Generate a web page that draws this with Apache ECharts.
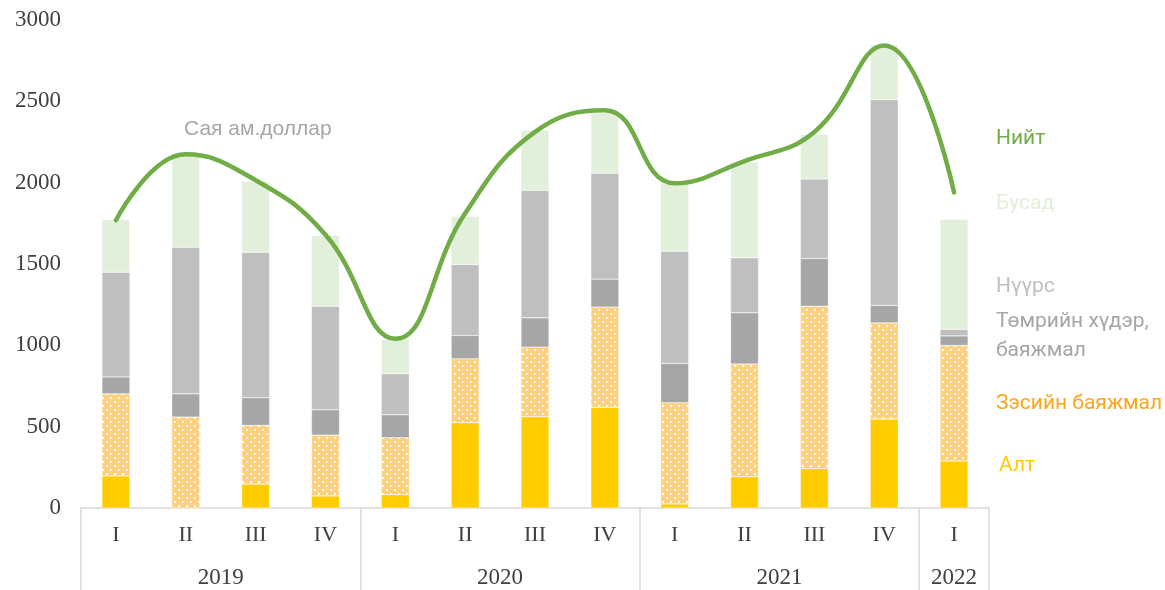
<!DOCTYPE html>
<html>
<head>
<meta charset="utf-8">
<script src="https://cdn.jsdelivr.net/npm/echarts@6/dist/echarts.min.js"></script>
<style>
  html, body { margin: 0; padding: 0; background: #fff; }
  #chart { width: 1165px; height: 590px; }
</style>
</head>
<body>
<div id="chart"></div>
<script>
const quarters = ["I", "II", "III", "IV", "I", "II", "III", "IV", "I", "II", "III", "IV", "I"]
const years = { 2: "2019", 6: "2020", 10: "2021", 12.5: "2022" }
const yTicks = [0, 500, 1000, 1500, 2000, 2500, 3000]

const gold = [197, 0, 147, 74, 82, 524, 561, 620, 25, 192, 242, 547, 289]
const copper = [505, 559, 361, 374, 350, 393, 428, 615, 622, 694, 999, 591, 710]
const iron = [104, 143, 170, 156, 141, 144, 180, 172, 242, 314, 293, 107, 59]
const coal = [644, 901, 894, 637, 252, 436, 784, 651, 690, 338, 489, 1265, 40]
const other = [323, 565, 435, 434, 211, 297, 369, 372, 426, 587, 274, 336, 677]
const total = [1769, 2174, 2015, 1680, 1040, 1812, 2312, 2445, 1996, 2133, 2312, 2844, 1939]

// dotted fill for copper
const dots = document.createElement("canvas")
dots.width = 8
dots.height = 8
const ctx = dots.getContext("2d")
ctx.fillStyle = "#FECF7C"
ctx.fillRect(0, 0, 8, 8)
ctx.fillStyle = "#ffffff"
ctx.fillRect(2, 1, 2, 2)
ctx.fillRect(6, 5, 2, 2)

const chart = echarts.init(document.getElementById("chart"))

const serif = "Liberation Serif"
const labelColor = "#404040"

const bar = (name, data, color) => ({
	name: name,
	type: "bar",
	stack: "x",
	barWidth: 28,
	data: data,
	itemStyle: { color: color, borderColor: "rgba(255,255,255,0.6)", borderWidth: 0.5 },
})

chart.setOption({
	animation: false,
	grid: { left: 81, right: 176, top: 20, bottom: 82 },
	xAxis: [
		{
			type: "category",
			data: quarters,
			axisLine: { lineStyle: { color: "#D9D9D9", width: 1.5 } },
			axisTick: { show: false },
			axisLabel: { margin: 16, fontFamily: serif, fontSize: 22, color: labelColor },
		},
		{
			type: "value",
			min: 0,
			max: 13,
			interval: 0.5,
			position: "bottom",
			offset: 0,
			axisLine: { show: false },
			axisTick: { show: false },
			splitLine: { show: false },
			axisLabel: {
				margin: 58,
				fontFamily: serif,
				fontSize: 23,
				color: labelColor,
				formatter: (v) => years[v] || "",
			},
		},
		{
			type: "value",
			min: 0,
			max: 13,
			interval: 4,
			position: "bottom",
			offset: 0,
			axisLine: { show: false },
			axisTick: { show: true, length: 90, lineStyle: { color: "#D9D9D9", width: 1.5 } },
			splitLine: { show: false },
			axisLabel: { show: false },
		},
	],
	yAxis: {
		type: "value",
		min: yTicks[0],
		max: yTicks[yTicks.length - 1],
		interval: 500,
		axisLine: { show: false },
		axisTick: { show: false },
		splitLine: { show: false },
		axisLabel: {
			margin: 20,
			fontFamily: serif,
			fontSize: 23,
			color: labelColor,
			formatter: (v) => String(v),
		},
	},
	series: [
		bar("Алт", gold, "#FFCC00"),
		bar("Зэсийн баяжмал", copper, { image: dots, repeat: "repeat" }),
		bar("Төмрийн хүдэр, баяжмал", iron, "#A6A6A6"),
		bar("Нүүрс", coal, "#BFBFBF"),
		bar("Бусад", other, "#E2EFDA"),
		{
			name: "Нийт",
			type: "line",
			data: total,
			smooth: 0.45,
			symbol: "none",
			z: 5,
			lineStyle: { color: "#70AD47", width: 4.5, cap: "round" },
		},
	],
	graphic: [
		{ type: "text", left: 184, top: 119, style: { text: "Сая ам.доллар", fill: "#A6A6A6", font: "21px 'Liberation Sans'" } },
		{ type: "text", left: 996, top: 128, style: { text: "Нийт", fill: "#70AD47", font: "21px Roboto" } },
		{ type: "text", left: 996, top: 193, style: { text: "Бусад", fill: "#E2EFDA", font: "21px Roboto" } },
		{ type: "text", left: 996, top: 276, style: { text: "Нүүрс", fill: "#BFBFBF", font: "21px Roboto" } },
		{ type: "text", left: 996, top: 307, style: { text: "Төмрийн хүдэр,\nбаяжмал", fill: "#A6A6A6", font: "21px Roboto", lineHeight: 29 } },
		{ type: "text", left: 996, top: 393, style: { text: "Зэсийн баяжмал", fill: "#F9A61B", font: "21px Roboto" } },
		{ type: "text", left: 999, top: 455, style: { text: "Алт", fill: "#FFCC00", font: "21px Roboto" } },
	],
})
</script>
</body>
</html>
